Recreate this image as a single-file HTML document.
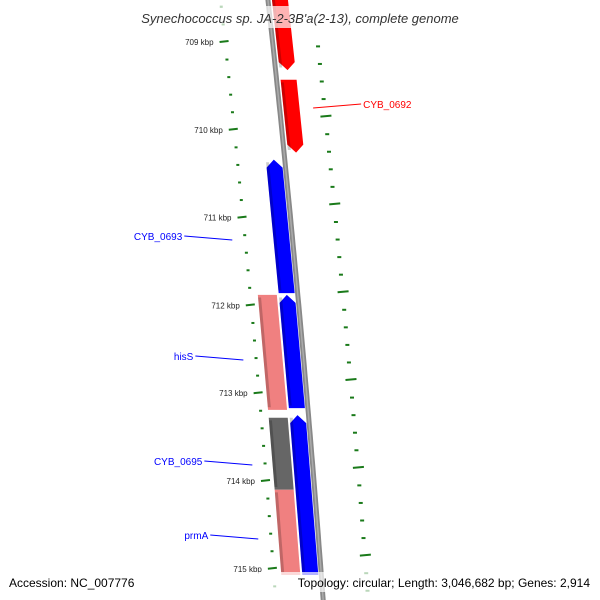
<!DOCTYPE html>
<html><head><meta charset="utf-8"><style>
body{margin:0;background:#fff;}
svg{display:block;font-family:"Liberation Sans","DejaVu Sans",sans-serif;}
</style></head><body>
<svg id="chart" width="600" height="600" viewBox="0 0 600 600" xmlns="http://www.w3.org/2000/svg">
<g id="ticks"></g>
<g id="genes"></g>
<g id="backbone"></g>
<g id="labels"></g>
<rect x="0" y="6" width="600" height="22" fill="#fff" opacity="0.7"/>
<text x="300" y="23" text-anchor="middle" font-size="13" font-style="italic" fill="#333">Synechococcus sp. JA-2-3B'a(2-13), complete genome</text>
<rect x="0" y="572" width="600" height="20" fill="#fff" opacity="0.7"/>
<text x="9" y="587" font-size="12" fill="#000">Accession: NC_007776</text>
<text x="590" y="587" text-anchor="end" font-size="12" fill="#000">Topology: circular; Length: 3,046,682 bp; Genes: 2,914</text>
</svg>
<script>
const tickKbp = [709, 710, 711, 712, 713, 714, 715];
const tickLabels = ["709 kbp","710 kbp","711 kbp","712 kbp","713 kbp","714 kbp","715 kbp"];
const geneNames = ["CYB_0691","CYB_0692","CYB_0693","CYB_0694","hisS","CYB_0695","prmA","CYB_0697"];
const geneStart = [708.3, 709.43, 710.34, 711.88, 711.88, 713.28, 714.1, 713.25];
const geneEnd = [709.32, 710.26, 711.86, 713.17, 713.19, 714.1, 715.07, 715.07];
const geneStrand = [1, 1, -1, -1, 0, 0, 0, -1];
const geneTrack = [1, 1, -1, -1, -2, -2, -2, -1];
const geneColor = ["#ff0000","#ff0000","#0000ff","#0000ff","#f08080","#666666","#f08080","#0000ff"];
const labelNames = ["CYB_0692","CYB_0693","hisS","CYB_0695","prmA"];
const labelGene = [1, 2, 4, 5, 6];
const labelColor = ["#ff0000","#0000ff","#0000ff","#0000ff","#0000ff"];
const labelY = [104, 236, 356, 461, 535];

const NS="http://www.w3.org/2000/svg";
function yOf(k){return 42+(k-709)*87.8;}
function bx(y){return 268+0.11*y-0.00003*y*y;}
function pt(k,off){const y=yOf(k);return [bx(y)+off,y];}
function mk(tag,attrs,parent){const e=document.createElementNS(NS,tag);for(const a in attrs)e.setAttribute(a,attrs[a]);parent.appendChild(e);return e;}
const trackOff={1:[4,20],"-1":[-19,-3],"-2":[-40,-21]};

// ticks
const tg=document.getElementById('ticks');
for(let k=708.6;k<=715.6;k+=0.2){
  const kk=Math.round(k*10)/10;
  const major=Math.abs(kk-Math.round(kk))<0.01;
  const a=pt(kk,major?-53:-49), b=pt(kk,major?-44:-46);
  if(a[1]<0||a[1]>600)continue;
  const l=mk('line',{x1:a[0],y1:a[1],x2:b[0],y2:b[1]+(major?-1:0),stroke:'#1a7a1a','stroke-width':major?2:2},tg);
  
  
}
tickKbp.forEach((k,i)=>{
  const p=pt(k,-53);
  const t=mk('text',{x:p[0]-6,y:p[1]+3,'text-anchor':'end','font-size':'8',fill:'#222'},tg);
  t.textContent=tickLabels[i];
  
  
});
for(let k=708.05;k<=715.8;k+=0.2){
  const kk=Math.round(k*100)/100;
  const major=Math.abs(((kk-709.85)%1+1)%1)<0.02||Math.abs(((kk-709.85)%1+1)%1-1)<0.02;
  const a=pt(kk,major?40:43), b=pt(kk,major?51:47);
  if(a[1]<30||a[1]>600)continue;
  const l=mk('line',{x1:a[0],y1:a[1],x2:b[0],y2:b[1]-(major?1:0),stroke:'#1a7a1a','stroke-width':2},tg);
  
  
}

// genes
const gg=document.getElementById('genes');
geneStart.forEach((s,i)=>{
  const e=geneEnd[i],[o1,o2]=trackOff[geneTrack[i]],tip=8;
  let pts=[];
  if(geneStrand[i]===1){
    const kt=e-tip/87.8;
    pts=[pt(s,o1),pt(kt,o1),pt(e,(o1+o2)/2),pt(kt,o2),pt(s,o2)];
  }else if(geneStrand[i]===-1){
    const kt=s+tip/87.8;
    pts=[pt(s,(o1+o2)/2),pt(kt,o2),pt(e,o2),pt(e,o1),pt(kt,o1)];
  }else{
    pts=[pt(s,o1),pt(e,o1),pt(e,o2),pt(s,o2)];
  }
  const p=mk('polygon',{points:pts.map(q=>q.join(',')).join(' '),fill:geneColor[i]},gg);
  
  
  const sh=mk('polygon',{points:[pt(s+0.03,o1),pt(e-0.03,o1),pt(e-0.03,o1+3),pt(s+0.03,o1+3)].map(q=>q.join(',')).join(' '),fill:'#000',opacity:'0.2'},gg);
  
  
});

// backbone
const bg=document.getElementById('backbone');
let d='';for(let y=-5;y<=605;y+=10){d+=(y<0?'M':'L')+bx(y).toFixed(1)+','+y+' ';}
const b1=mk('path',{d:d,fill:'none',stroke:'#888','stroke-width':5},bg);


const b2=mk('path',{d:d,fill:'none',stroke:'#aaa','stroke-width':1.5},bg);



// labels
const lg=document.getElementById('labels');
labelNames.forEach((n,i)=>{
  const gi=labelGene[i],y=labelY[i];
  const right=geneTrack[gi]>0;
  const k=(y-42)/87.8+709;
  const anchor=pt(k,right?34:-60);
  const x2=right?anchor[0]+48:anchor[0]-48;
  const l=mk('line',{x1:anchor[0],y1:anchor[1]+4,x2:x2,y2:y,stroke:labelColor[i],'stroke-width':1},lg);
  
  
  const t=mk('text',{x:right?x2+2:x2-2,y:y+4,'text-anchor':right?'start':'end','font-size':'10',fill:labelColor[i]},lg);
  t.textContent=n;
  
  
});
</script>
</body></html>
